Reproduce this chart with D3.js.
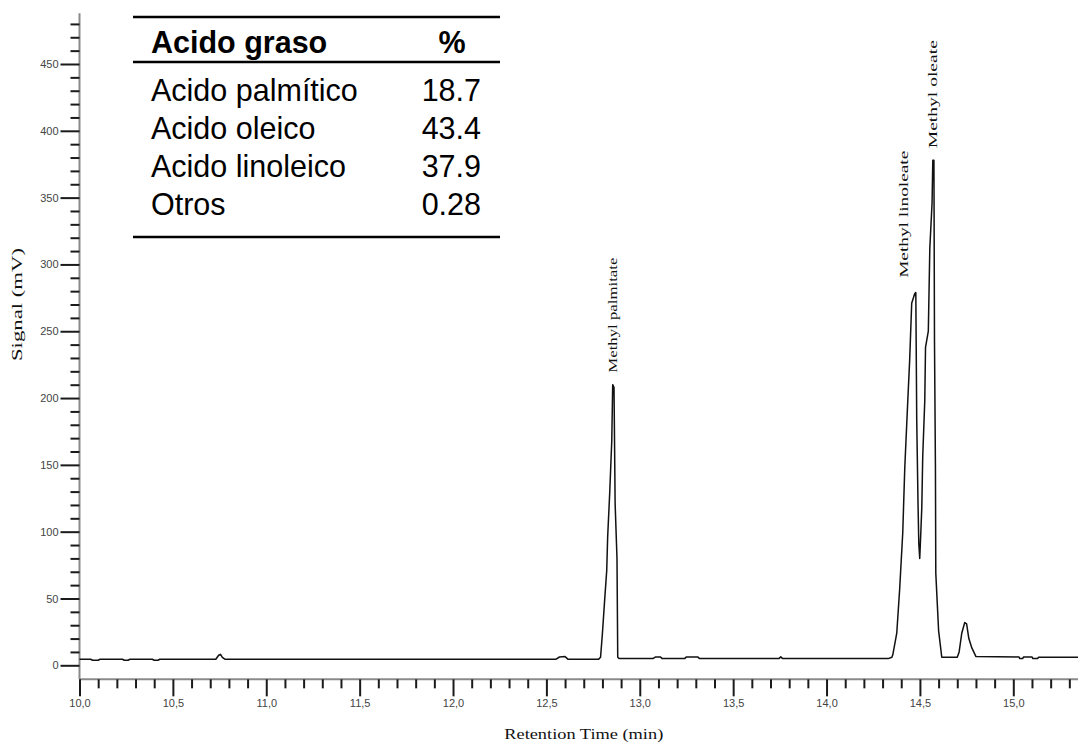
<!DOCTYPE html>
<html>
<head>
<meta charset="utf-8">
<script src="https://cdn.jsdelivr.net/npm/d3@7"></script>
<style>
  body { margin: 0; background: #fff; }
  svg { display: block; }
</style>
</head>
<body>
<svg id="chart"></svg>
<script>
// chromatogram trace (time in min, signal in mV)
const retentionTime = [
    10.00, 10.06, 10.07, 10.10, 10.11, 10.23, 10.24, 10.26, 10.27, 10.39,
    10.40, 10.42, 10.43, 10.73, 10.745, 10.755, 10.765, 10.78, 12.55, 12.57,
    12.60, 12.615, 12.78, 12.79, 12.80, 12.812, 12.823, 12.828, 12.839, 12.85,
    12.855, 12.862, 12.866, 12.868, 12.878, 12.882, 12.89, 13.07, 13.085, 13.11,
    13.12, 13.24, 13.25, 13.31, 13.32, 13.745, 13.755, 13.765, 14.33, 14.35,
    14.355, 14.376, 14.392, 14.408, 14.419, 14.435, 14.445, 14.456, 14.472, 14.478,
    14.483, 14.49, 14.494, 14.499, 14.505, 14.51, 14.515, 14.526, 14.53, 14.545,
    14.553, 14.565, 14.569, 14.575, 14.578, 14.583, 14.585, 14.60, 14.617, 14.70,
    14.71, 14.724, 14.74, 14.75, 14.762, 14.778, 14.80, 15.03, 15.035, 15.05,
    15.055, 15.10, 15.105, 15.13, 15.135, 15.35
];
const signal = [
    4.5, 4.5, 3.8, 3.8, 4.5, 4.5, 3.8, 3.8, 4.5, 4.5,
    3.8, 3.8, 4.5, 4.5, 7.5, 8.2, 6, 4.5, 4.5, 6.2,
    6.5, 4.6, 4.6, 6, 24, 49, 71, 96, 129, 168,
    210, 208, 150, 121, 80, 6, 5, 5, 6.3, 6.3,
    5, 5, 6.3, 6.3, 5, 5, 6.3, 5, 5, 6,
    8, 24, 58, 99, 148, 198, 228, 271, 278, 279,
    183, 120, 91, 80, 100, 118, 156, 198, 238, 250,
    312, 346, 378, 378, 243, 150, 69, 26, 6, 6,
    10, 24, 32, 31, 20, 13, 6.5, 6.3, 5, 5,
    6.3, 6.3, 5, 5, 6, 6
];

// peak annotations
const peakNames = ["Methyl palmitate", "Methyl linoleate", "Methyl oleate"];
const peakTimes = [12.855, 14.41, 14.568];
const peakLabelBase = [219, 290, 387];

// fatty acid table
const acidNames = ["Acido palmítico", "Acido oleico", "Acido linoleico", "Otros"];
const acidPercents = ["18.7", "43.4", "37.9", "0.28"];

// axis ticks
const yMajorTicks = d3.range(0, 451, 50);
const yMinorTicks = d3.range(0, 481, 10).filter(v => v % 50 !== 0);
const xMajorTicks = d3.range(0, 11).map(i => 10 + i * 0.5);
const xMinorTicks = d3.range(0, 54).map(i => 10 + i * 0.1).filter((v, i) => i % 5 !== 0);

const width = 1078;
const height = 744;

const svg = d3.select('#chart')
    .attr('width', width)
    .attr('height', height);

svg.append('rect')
    .attr('width', width)
    .attr('height', height)
    .attr('fill', '#fff');

const x = d3.scaleLinear().domain([10, 15]).range([79.5, 1013.3]);
const y = d3.scaleLinear().domain([0, 450]).range([665.3, 64]);

// axis lines
svg.append('line')
    .attr('x1', x(10)).attr('x2', x(10))
    .attr('y1', y(-10.5)).attr('y2', y(488))
    .attr('stroke', '#8a8a8a')
    .attr('stroke-width', 2);

svg.append('line')
    .attr('x1', x(10)).attr('x2', x(15.36))
    .attr('y1', y(-10.5)).attr('y2', y(-10.5))
    .attr('stroke', '#8a8a8a')
    .attr('stroke-width', 2);

// y axis ticks
const yMajor = svg.append('g')
    .attr('transform', `translate(${x(10)},0)`)
    .call(d3.axisLeft(y).tickValues(yMajorTicks).tickSize(19).tickPadding(2).tickFormat(d => d));
const yMinor = svg.append('g')
    .attr('transform', `translate(${x(10)},0)`)
    .call(d3.axisLeft(y).tickValues(yMinorTicks).tickSize(9).tickFormat(''));

// x axis ticks
const xMajor = svg.append('g')
    .attr('transform', `translate(0,${y(-10.5)})`)
    .call(d3.axisBottom(x).tickValues(xMajorTicks).tickSize(17).tickPadding(3)
        .tickFormat(d => d.toFixed(1).replace('.', ',')));
const xMinor = svg.append('g')
    .attr('transform', `translate(0,${y(-10.5)})`)
    .call(d3.axisBottom(x).tickValues(xMinorTicks).tickSize(9).tickFormat(''));

[yMajor, yMinor, xMajor, xMinor].forEach(g => {
    g.select('.domain').remove();
    g.selectAll('.tick line')
        .attr('stroke', '#1a1a1a')
        .attr('stroke-width', 2);
    g.selectAll('.tick text')
        .attr('fill', '#444')
        .style('font-family', '"Liberation Sans", Arial, sans-serif')
        .style('font-size', '11px');
});

// the trace
const pts = retentionTime.map((t, i) => [t, signal[i]]);
svg.append('path')
    .datum(pts)
    .attr('fill', 'none')
    .attr('stroke', '#111')
    .attr('stroke-width', 1.5)
    .attr('stroke-linejoin', 'round')
    .attr('d', d3.line().x(d => x(d[0])).y(d => y(d[1])));

// peak labels
const peakLens = [115, 127, 108];
svg.append('g')
    .selectAll('text')
    .data(peakNames)
    .join('text')
    .attr('transform', (d, i) => `translate(${x(peakTimes[i])},${y(peakLabelBase[i])}) rotate(-90)`)
    .attr('dy', '0.35em')
    .attr('textLength', (d, i) => peakLens[i])
    .attr('lengthAdjust', 'spacingAndGlyphs')
    .style('font-family', '"Liberation Serif", "Times New Roman", serif')
    .style('font-size', '13px')
    .attr('fill', '#111')
    .text(d => d);

// axis titles
svg.append('text')
    .attr('transform', `translate(17,${y(270)}) rotate(-90)`)
    .attr('text-anchor', 'middle')
    .attr('dy', '0.35em')
    .attr('textLength', 113)
    .attr('lengthAdjust', 'spacingAndGlyphs')
    .style('font-family', '"Liberation Serif", "Times New Roman", serif')
    .style('font-size', '14px')
    .attr('fill', '#111')
    .text('Signal (mV)');

svg.append('text')
    .attr('x', x(12.7))
    .attr('y', 739)
    .attr('text-anchor', 'middle')
    .attr('textLength', 159)
    .attr('lengthAdjust', 'spacingAndGlyphs')
    .style('font-family', '"Liberation Serif", "Times New Roman", serif')
    .style('font-size', '15px')
    .attr('fill', '#111')
    .text('Retention Time (min)');

// table
const tbl = svg.append('g')
    .style('font-family', '"Liberation Sans", Arial, sans-serif')
    .style('font-size', '30.5px')
    .attr('fill', '#000');

[17, 62, 237].forEach(ry => {
    tbl.append('line')
        .attr('x1', 133).attr('x2', 500)
        .attr('y1', ry).attr('y2', ry)
        .attr('stroke', '#000')
        .attr('stroke-width', 2.5);
});

tbl.append('text')
    .attr('x', 151).attr('y', 53)
    .style('font-weight', 'bold')
    .text('Acido graso');
tbl.append('text')
    .attr('x', 452).attr('y', 53)
    .attr('text-anchor', 'middle')
    .style('font-weight', 'bold')
    .text('%');

tbl.selectAll('text.name')
    .data(acidNames)
    .join('text')
    .attr('class', 'name')
    .attr('x', 151)
    .attr('y', (d, i) => 101 + i * 38)
    .text(d => d);

tbl.selectAll('text.pct')
    .data(acidPercents)
    .join('text')
    .attr('class', 'pct')
    .attr('x', 481)
    .attr('y', (d, i) => 101 + i * 38)
    .attr('text-anchor', 'end')
    .text(d => d);
</script>
</body>
</html>
